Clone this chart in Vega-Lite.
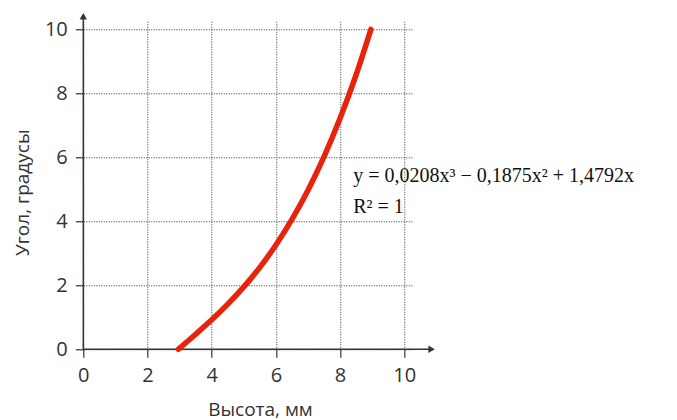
{
  "$schema": "https://vega.github.io/schema/vega-lite/v6.json",
  "autosize": {"type": "none"},
  "width": 329,
  "height": 328,
  "padding": {"left": 83.3, "top": 21.3, "right": 264.7, "bottom": 70.7},
  "background": "white",
  "config": {
    "view": {"stroke": null},
    "axis": {
      "domain": false,
      "grid": true,
      "gridColor": "#333333",
      "gridDash": [1, 1.5],
      "gridWidth": 1,
      "gridOpacity": 1,
      "tickColor": "#333333",
      "tickSize": 8,
      "tickWidth": 1.2,
      "labelFlush": false,
      "labelFont": "Open Sans",
      "labelFontSize": 20,
      "labelColor": "#333333",
      "titleFont": "Open Sans",
      "titleFontSize": 19,
      "titleFontWeight": "normal",
      "titleColor": "#333333"
    }
  },
  "datasets": {
    "curve": [
      {"h": 2.96, "a": 0},
      {"h": 3.5, "a": 0.47},
      {"h": 4.0, "a": 0.92},
      {"h": 4.5, "a": 1.41},
      {"h": 5.0, "a": 1.95},
      {"h": 5.5, "a": 2.56},
      {"h": 6.0, "a": 3.26},
      {"h": 6.5, "a": 4.06},
      {"h": 7.0, "a": 4.97},
      {"h": 7.5, "a": 6.02},
      {"h": 8.0, "a": 7.22},
      {"h": 8.5, "a": 8.58},
      {"h": 8.96, "a": 10.0}
    ],
    "xaxis": [{"x": 0, "x2": 10.85, "y": 0}],
    "yaxis": [{"x": 0, "y": 0, "y2": 10.41}],
    "xarrow": [{"x": 10.85, "y": 0}],
    "yarrow": [{"x": 0, "y": 10.41}],
    "labels": [
      {"x": 8.41, "y": 5.24, "t": "y = 0,0208x³ − 0,1875x² + 1,4792x"},
      {"x": 8.41, "y": 4.25, "t": "R² = 1"}
    ]
  },
  "layer": [
    {
      "data": {"name": "xaxis"},
      "mark": {"type": "rule", "color": "#333333", "strokeWidth": 1.5},
      "encoding": {
        "x": {"field": "x", "type": "quantitative", "scale": {"domain": [0, 10.25], "nice": false},
          "axis": {"values": [0, 2, 4, 6, 8, 10], "title": "Высота, мм", "labelPadding": 8, "titleX": 176.7, "titleY": 65.7, "titleBaseline": "alphabetic", "titleAnchor": null, "titleAlign": "center"}},
        "x2": {"field": "x2"},
        "y": {"field": "y", "type": "quantitative", "scale": {"domain": [0, 10.25], "nice": false},
          "axis": {"values": [0, 2, 4, 6, 8, 10], "title": "Угол, градусы", "labelPadding": 8, "titleX": -55, "titleY": 171, "titleBaseline": "alphabetic", "titleAlign": "center", "titleAngle": -90}}
      }
    },
    {
      "data": {"name": "yaxis"},
      "mark": {"type": "rule", "color": "#333333", "strokeWidth": 1.5},
      "encoding": {
        "x": {"field": "x", "type": "quantitative"},
        "y": {"field": "y", "type": "quantitative"},
        "y2": {"field": "y2"}
      }
    },
    {
      "data": {"name": "xarrow"},
      "mark": {"type": "point", "shape": "triangle-right", "filled": true, "color": "#333333", "size": 55, "opacity": 1},
      "encoding": {
        "x": {"field": "x", "type": "quantitative"},
        "y": {"field": "y", "type": "quantitative"}
      }
    },
    {
      "data": {"name": "yarrow"},
      "mark": {"type": "point", "shape": "triangle-up", "filled": true, "color": "#333333", "size": 55, "opacity": 1},
      "encoding": {
        "x": {"field": "x", "type": "quantitative"},
        "y": {"field": "y", "type": "quantitative"}
      }
    },
    {
      "data": {"name": "curve"},
      "mark": {"type": "line", "color": "#e8230b", "strokeWidth": 5.5, "strokeCap": "round", "interpolate": "monotone", "clip": false},
      "encoding": {
        "x": {"field": "h", "type": "quantitative"},
        "y": {"field": "a", "type": "quantitative"}
      }
    },
    {
      "data": {"name": "labels"},
      "mark": {"type": "text", "font": "Liberation Serif", "fontSize": 20, "align": "left", "baseline": "alphabetic", "color": "#111111"},
      "encoding": {
        "x": {"field": "x", "type": "quantitative"},
        "y": {"field": "y", "type": "quantitative"},
        "text": {"field": "t"}
      }
    }
  ]
}
